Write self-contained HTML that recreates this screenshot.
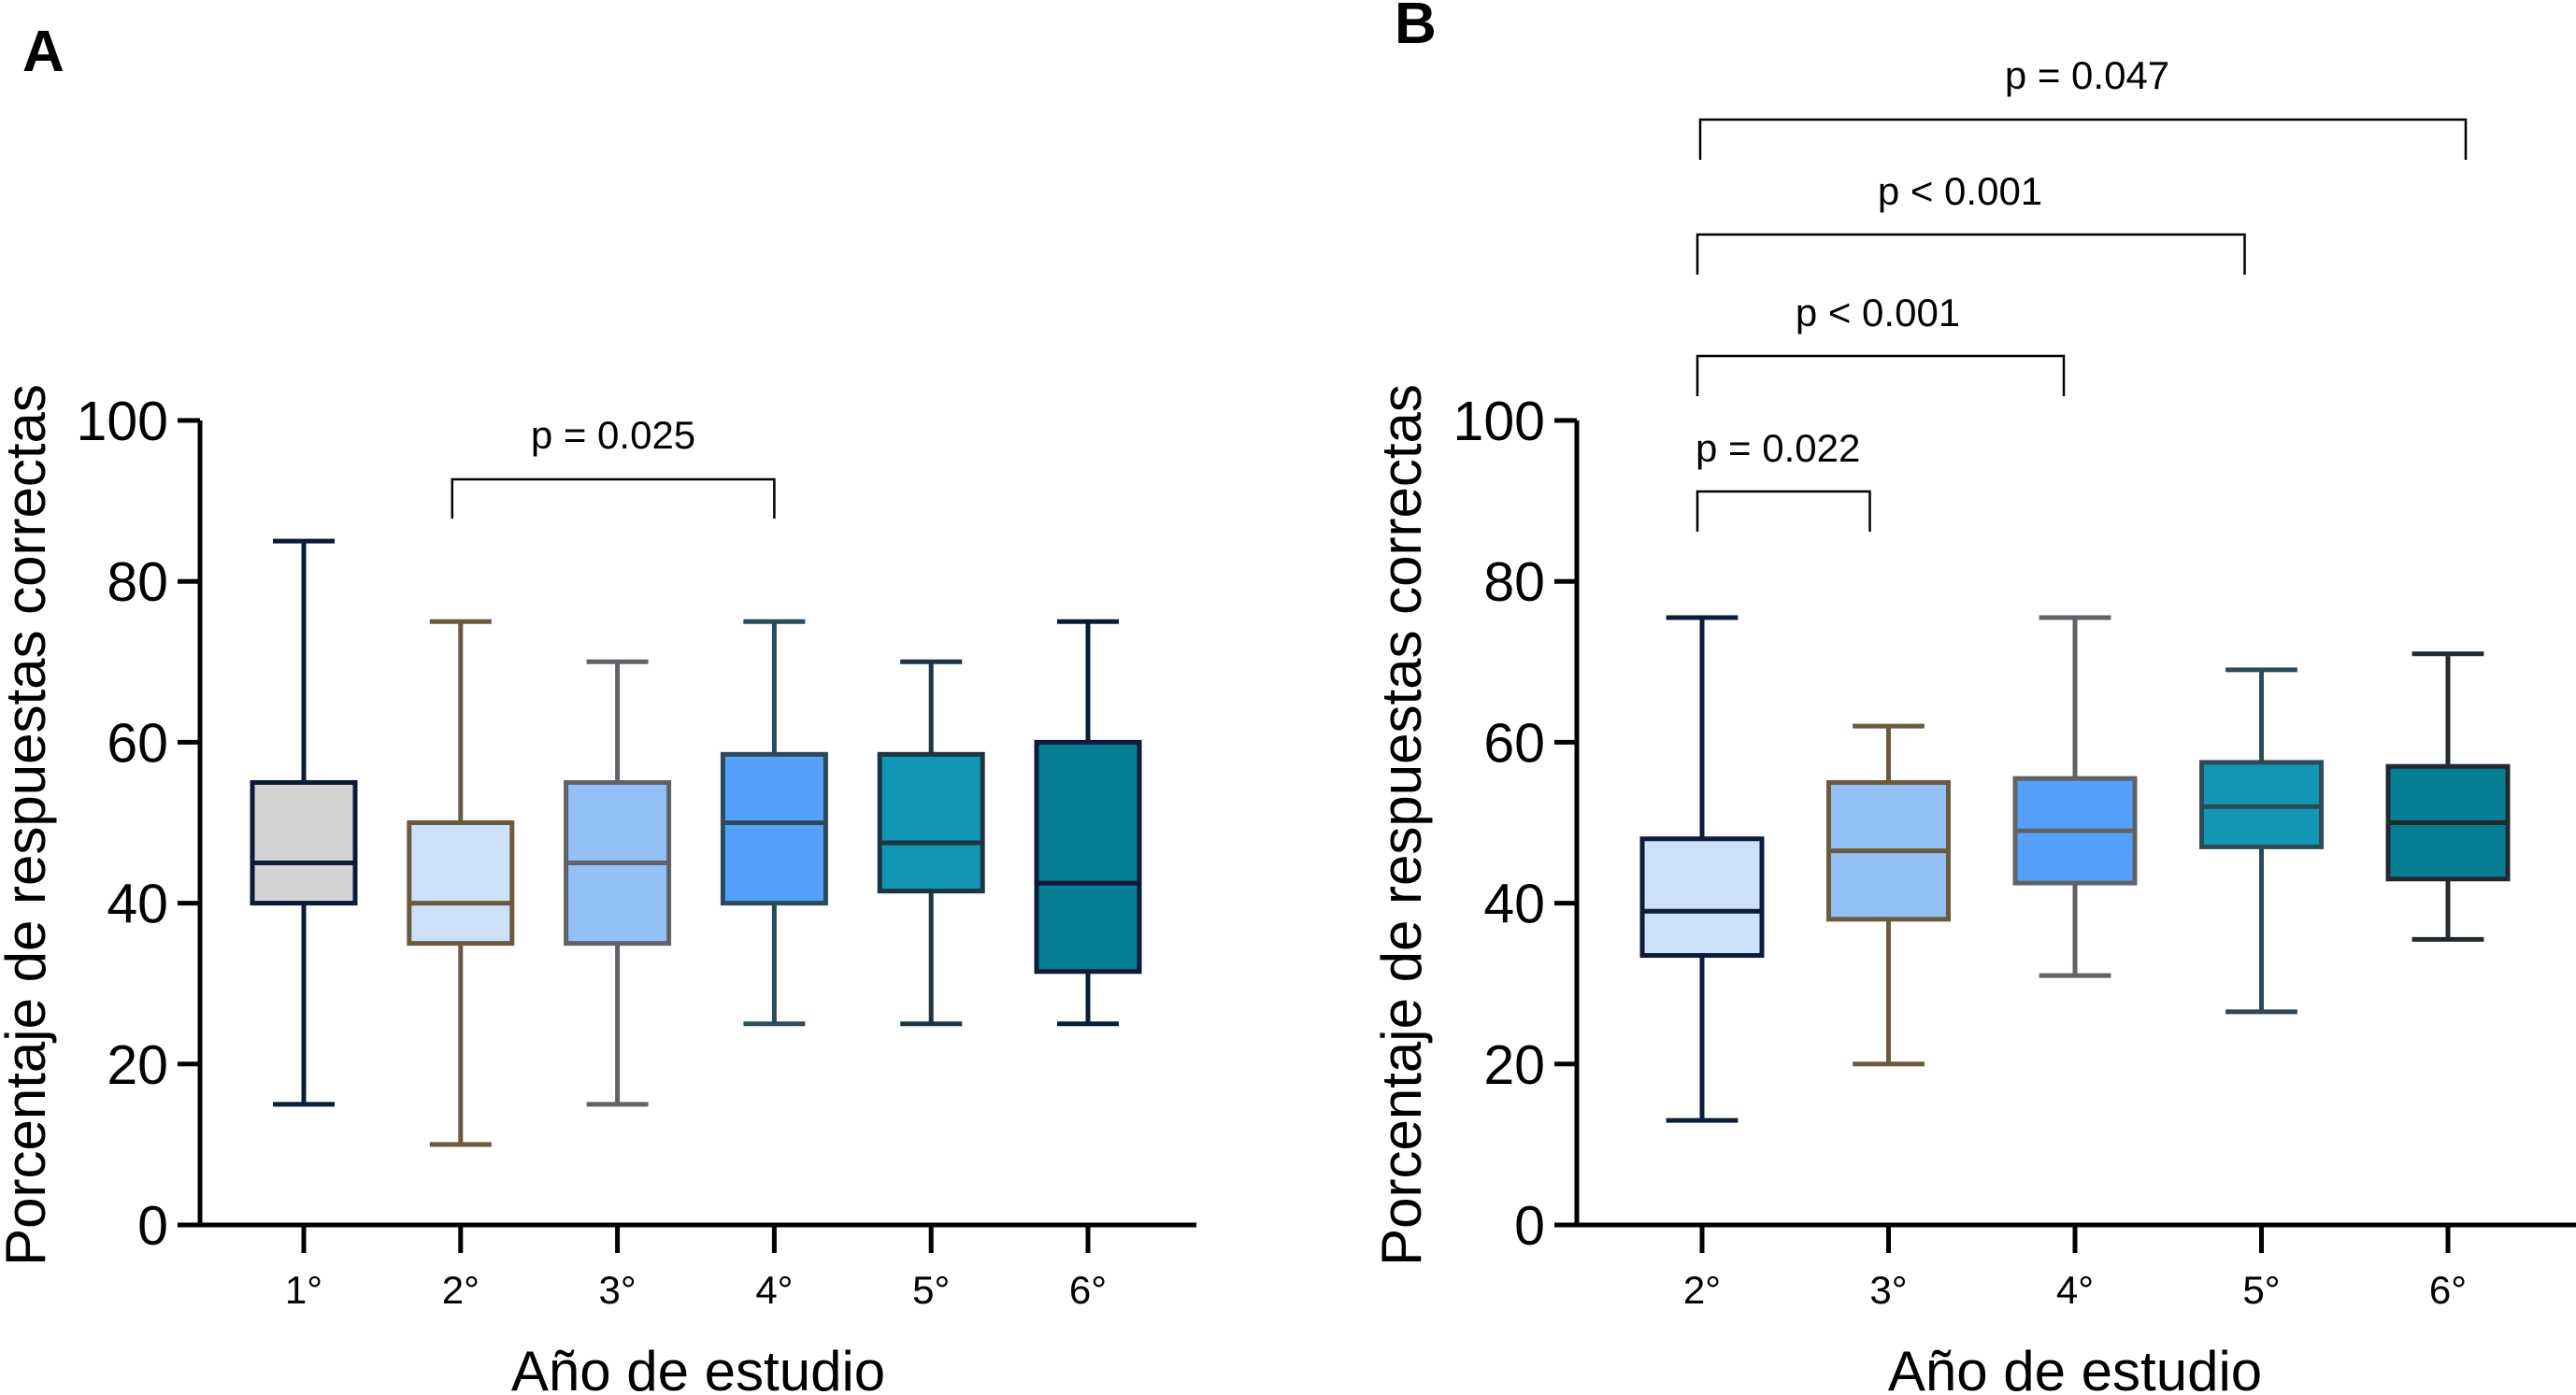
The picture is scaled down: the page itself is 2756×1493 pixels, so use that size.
<!DOCTYPE html>
<html><head><meta charset="utf-8"><style>
html,body{margin:0;padding:0;background:#fff;}
svg{display:block;font-family:"Liberation Sans",Arial,sans-serif;}
</style></head><body>
<svg id="fig" width="2756" height="1493" viewBox="0 0 2756 1493" xmlns="http://www.w3.org/2000/svg">
<text x="24" y="76" font-size="62" font-weight="bold">A</text>
<text x="1492" y="46" font-size="62" font-weight="bold">B</text>
</svg>
<script>
// Panel A data
const catsA = ["1°","2°","3°","4°","5°","6°"];
const minA = [15,10,15,25,25,25];
const q1A = [40,35,35,40,41.5,31.5];
const medA = [45,40,45,50,47.5,42.5];
const q3A = [55,50,55,58.5,58.5,60];
const maxA = [85,75,70,75,70,75];
// Panel B data
const catsB = ["2°","3°","4°","5°","6°"];
const minB = [13,20,31,26.5,35.5];
const q1B = [33.5,38,42.5,47,43];
const medB = [39,46.5,49,52,50];
const q3B = [48,55,55.5,57.5,57];
const maxB = [75.5,62,75.5,69,71];
const yTicks = [0,20,40,60,80,100];
const sigA = [{from:1,to:3,label:"p = 0.025"}];
const sigB = [{from:0,to:1,label:"p  = 0.022"},{from:0,to:2,label:"p < 0.001"},{from:0,to:3,label:"p < 0.001"},{from:0,to:4,label:"p = 0.047"}];

const fillsA=["#d3d3d3","#cce0f8","#93c0f7","#55a0fa","#1196b3","#087e96"];
const strokesA=["#0d1b3a","#6b5a3e","#5f6368","#2b4a5a","#1f3340","#0d1b3a"];
const fillsB=["#cce0f8","#93c0f7","#55a0fa","#1196b3","#087e96"];
const strokesB=["#0d1b3a","#6b5a3e","#5f6368","#2b4a5a","#222a30"];

const svg=document.getElementById('fig');
const NS="http://www.w3.org/2000/svg";
function mk(tag,attrs,parent){const e=document.createElementNS(NS,tag);for(const k in attrs)e.setAttribute(k,attrs[k]);(parent||svg).appendChild(e);return e;}

function panel(o){
  const g=mk('g',{});
  
  
  const y=v=>o.y0+(o.y100-o.y0)*v/100;
  const x=i=>o.x0+i*o.step;
  const ya=mk('line',{x1:o.ax,y1:o.y100,x2:o.ax,y2:o.y0+2.5,stroke:"#000","stroke-width":5},g);
  
  
  yTicks.forEach(t=>{
    mk('line',{x1:o.ax-24,y1:y(t),x2:o.ax,y2:y(t),stroke:"#000","stroke-width":5},g);
    const tl=mk('text',{x:o.ax-34,y:y(t)+21,"font-size":59,"text-anchor":"end"},g);
    tl.textContent=t;
    
    
  });
  const xa=mk('line',{x1:o.ax-24,y1:o.y0,x2:o.xend,y2:o.y0,stroke:"#000","stroke-width":5},g);
  
  
  o.cats.forEach((c,i)=>{
    mk('line',{x1:x(i),y1:o.y0,x2:x(i),y2:o.y0+30,stroke:"#000","stroke-width":5},g);
    const tl=mk('text',{x:x(i),y:o.y0+84,"font-size":42,"text-anchor":"middle"},g);
    tl.textContent=c;
    
    
    const bg=mk('g',{stroke:o.strokes[i],"stroke-width":5,fill:"none"},g);
    
    
    const hw=o.bw/2, cw=o.bw*0.3;
    mk('line',{x1:x(i),y1:y(o.max[i]),x2:x(i),y2:y(o.q3[i])},bg);
    mk('line',{x1:x(i),y1:y(o.q1[i]),x2:x(i),y2:y(o.min[i])},bg);
    mk('line',{x1:x(i)-cw,y1:y(o.max[i]),x2:x(i)+cw,y2:y(o.max[i])},bg);
    mk('line',{x1:x(i)-cw,y1:y(o.min[i]),x2:x(i)+cw,y2:y(o.min[i])},bg);
    mk('rect',{x:x(i)-hw,y:y(o.q3[i]),width:o.bw,height:y(o.q1[i])-y(o.q3[i]),fill:o.fills[i]},bg);
    mk('line',{x1:x(i)-hw,y1:y(o.med[i]),x2:x(i)+hw,y2:y(o.med[i])},bg);
  });
  o.sig.forEach((s,k)=>{
    const b=o.brk[k];
    const x1=x(s.from)+b.dx1, x2=x(s.to)+b.dx2;
    const p=mk('path',{d:`M${x1} ${b.bot} V${b.top} H${x2} V${b.bot}`,stroke:"#000","stroke-width":2.5,fill:"none"},g);
    
    
    const t=mk('text',{x:b.tx,y:b.ty,"font-size":42,"text-anchor":b.anchor||"middle","xml:space":"preserve"},g);
    t.textContent=s.label;
    
    
  });
  const xt=mk('text',{x:o.xtx,y:1488,"font-size":60,"text-anchor":"middle"},g);
  xt.textContent="Año de estudio";
  
  
  const yt=mk('text',{x:0,y:0,"font-size":60,"text-anchor":"middle",transform:`translate(${o.ytx},883) rotate(-90)`},g);
  yt.textContent="Porcentaje de respuestas correctas";
  
  
}

panel({name:'panel-a',ax:214,y0:1311,y100:450,x0:325,step:167.8,xend:1280,bw:110,
  cats:catsA,min:minA,q1:q1A,med:medA,q3:q3A,max:maxA,fills:fillsA,strokes:strokesA,
  sig:sigA,brk:[{dx1:-9,dx2:0,top:513,bot:555,tx:656,ty:480}],xtx:747,ytx:48});
panel({name:'panel-b',ax:1687,y0:1311,y100:450,x0:1821,step:199.5,xend:2756,bw:128,
  cats:catsB,min:minB,q1:q1B,med:medB,q3:q3B,max:maxB,fills:fillsB,strokes:strokesB,
  sig:sigB,brk:[{dx1:-5,dx2:-20,top:526,bot:569,tx:1814,ty:494,anchor:"start"},
    {dx1:-5,dx2:-12,top:381,bot:424,tx:2009,ty:349},
    {dx1:-5,dx2:-18,top:251,bot:294,tx:2097,ty:219},
    {dx1:-2,dx2:19,top:128,bot:171,tx:2233,ty:95}],xtx:2220,ytx:1520});
</script>
</body></html>
